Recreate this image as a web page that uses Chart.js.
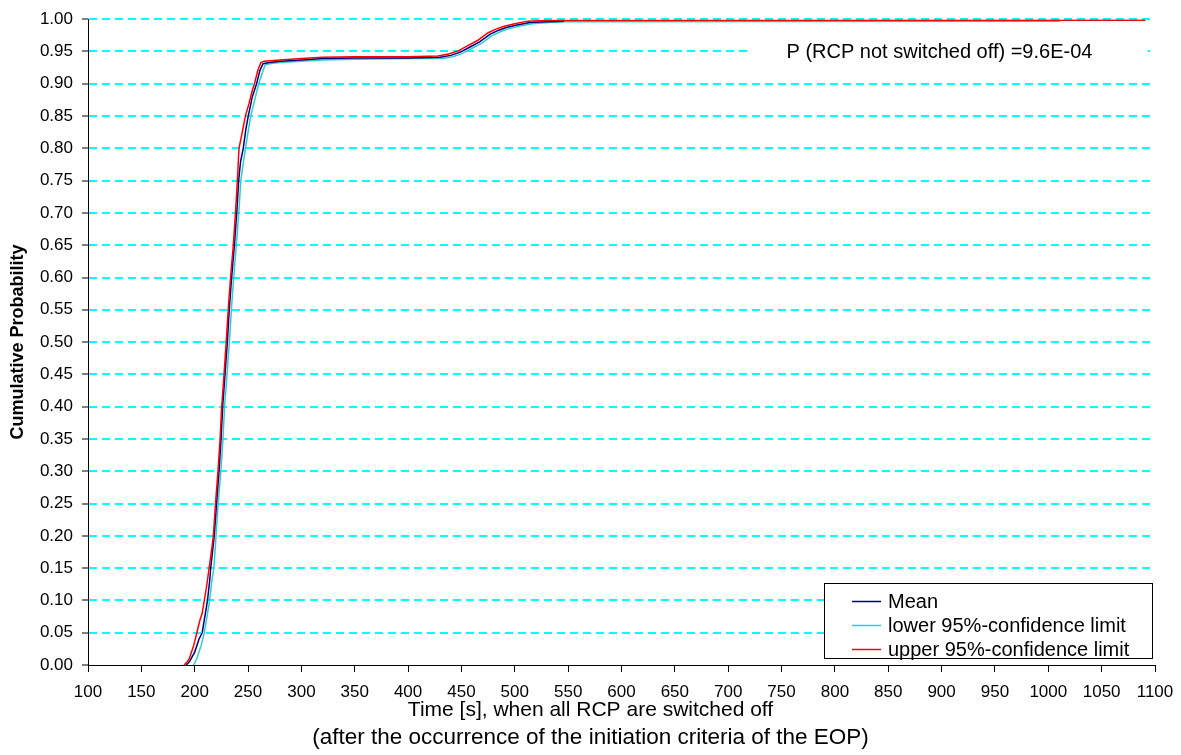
<!DOCTYPE html>
<html>
<head>
<meta charset="utf-8">
<script src="https://cdn.jsdelivr.net/npm/chart.js@4/dist/chart.umd.min.js"></script>
<style>
  html, body { margin: 0; padding: 0; background: #fff; }
  canvas { display: block; }
</style>
</head>
<body>
<canvas id="cdf" width="1181" height="755"></canvas>
<script>
// Cumulative probability of the time when all RCP are switched off

// axis ranges
const timeMin = 100, timeMax = 1100, timeStep = 50;
const probMin = 0, probMax = 1, probStep = 0.05;

// Mean
const meanTime = [192, 195, 200, 204, 207, 210, 212, 214, 215, 217, 218.3, 220.5, 222.8, 224.7, 226.2,
  228.4, 230.6, 232.4, 234.6, 237.2, 239.4, 241.2, 243, 245.5, 248, 250.2, 254, 258, 261, 264,
  270, 280, 300, 320, 350, 400, 430, 440, 449, 458, 467, 477, 485, 492, 502, 514, 530, 546];
const meanProb = [0, 0.005, 0.02, 0.04, 0.05, 0.08, 0.10, 0.13, 0.15, 0.18, 0.20, 0.25, 0.30, 0.35, 0.40,
  0.45, 0.50, 0.55, 0.60, 0.65, 0.70, 0.75, 0.78, 0.80, 0.83, 0.85, 0.88, 0.90, 0.92, 0.931,
  0.933, 0.935, 0.937, 0.939, 0.940, 0.940, 0.941, 0.944, 0.949, 0.957, 0.965, 0.977, 0.983, 0.987, 0.991, 0.995, 0.996, 0.997];

// lower 95%-confidence limit
const lowerTime = [199, 202, 206, 209, 212, 214, 216, 218, 220, 222, 224.5, 226.5, 228, 230.3, 232.5,
  234.4, 236.5, 239, 241.3, 243.2, 247.5, 252.5, 260, 263, 266, 270, 280, 300, 320, 350,
  400, 432, 442, 451, 460, 469, 479, 487, 494, 504, 516, 532, 548, 1011];
const lowerProb = [0, 0.01, 0.03, 0.05, 0.08, 0.10, 0.13, 0.15, 0.20, 0.25, 0.30, 0.35, 0.40, 0.45, 0.50,
  0.55, 0.60, 0.65, 0.70, 0.75, 0.80, 0.85, 0.90, 0.915, 0.929, 0.931, 0.933, 0.935, 0.937, 0.938,
  0.939, 0.939, 0.942, 0.947, 0.955, 0.963, 0.975, 0.981, 0.985, 0.989, 0.993, 0.995, 0.996, 0.997];

// upper 95%-confidence limit
const upperTime = [190, 193, 195, 197, 199, 202, 205, 207, 209, 211, 213.5, 216, 217.5, 219.5, 221.8,
  223.8, 225.3, 227.5, 229.5, 231.4, 233.6, 236.2, 238.2, 240, 241.5, 244, 247.5, 251, 254, 256,
  259, 262, 265, 280, 300, 320, 350, 400, 428, 438, 447, 456, 465, 475, 483, 490, 500, 512, 528, 545, 1091];
const upperProb = [0, 0.005, 0.01, 0.02, 0.03, 0.05, 0.07, 0.08, 0.10, 0.12, 0.15, 0.18, 0.20, 0.25, 0.30,
  0.35, 0.40, 0.45, 0.50, 0.55, 0.60, 0.65, 0.70, 0.75, 0.80, 0.82, 0.85, 0.87, 0.89, 0.90,
  0.92, 0.933, 0.935, 0.937, 0.939, 0.941, 0.942, 0.942, 0.943, 0.946, 0.951, 0.959, 0.967, 0.979, 0.985, 0.989, 0.993, 0.997, 0.998, 0.998, 0.9985];

const seriesLabels = ["Mean", "lower 95%-confidence limit", "upper 95%-confidence limit"];
const seriesColors = ["#000080", "#33CCCC", "#FF0000"];
const noteText = "P (RCP not switched off) =9.6E-04";
const xTitle = ["Time [s], when all RCP are switched off", "(after the occurrence of the initiation criteria of the EOP)"];
const yTitle = "Cumulative Probability";

const FONT = "'Liberation Sans', Arial, sans-serif";

function toPoints(xs, ys) {
  return xs.map((x, i) => ({ x: x, y: ys[i] }));
}

// white box with the probability note, masks the gridline behind it
const notePlugin = {
  id: "note",
  afterDraw(chart) {
    const ctx = chart.ctx;
    const xs = chart.scales.x, ys = chart.scales.y;
    const left = xs.getPixelForValue(720), right = xs.getPixelForValue(1093);
    const yc = ys.getPixelForValue(0.95);
    ctx.save();
    ctx.fillStyle = "#fff";
    ctx.fillRect(left, yc - 13, right - left, 26);
    ctx.fillStyle = "#000";
    ctx.font = "20px " + FONT;
    ctx.textAlign = "center";
    ctx.textBaseline = "middle";
    ctx.fillText(noteText, xs.getPixelForValue(898), yc + 1);
    ctx.restore();
  }
};

// framed legend in the lower right corner of the plot
const legendPlugin = {
  id: "boxLegend",
  afterDraw(chart) {
    const ctx = chart.ctx;
    const area = chart.chartArea;
    const w = 328, h = 75;
    const right = area.right - 3, bottom = area.bottom - 7;
    const left = right - w, top = bottom - h;
    ctx.save();
    ctx.fillStyle = "#fff";
    ctx.fillRect(left, top, w, h);
    ctx.strokeStyle = "#000";
    ctx.lineWidth = 1;
    ctx.strokeRect(Math.round(left) + 0.5, Math.round(top) + 0.5, w, h);
    ctx.font = "20px " + FONT;
    ctx.textBaseline = "middle";
    seriesLabels.forEach((lab, i) => {
      const y = Math.round(top + 18 + i * 24) + 0.5;
      ctx.strokeStyle = seriesColors[i];
      ctx.lineWidth = 1.5;
      ctx.beginPath();
      ctx.moveTo(left + 28, y);
      ctx.lineTo(left + 57, y);
      ctx.stroke();
      ctx.fillStyle = "#000";
      ctx.fillText(lab, left + 64, y + 1);
    });
    ctx.restore();
  }
};

// two-line x axis title, centred on the page like the original
const xTitlePlugin = {
  id: "xTitle",
  afterDraw(chart) {
    const ctx = chart.ctx;
    ctx.save();
    ctx.fillStyle = "#000";
    ctx.textAlign = "center";
    ctx.textBaseline = "middle";
    ctx.font = "21px " + FONT;
    ctx.fillText(xTitle[0], chart.width / 2, 710);
    ctx.font = "22.5px " + FONT;
    ctx.fillText(xTitle[1], chart.width / 2, 738);
    ctx.restore();
  }
};

const ctx = document.getElementById("cdf").getContext("2d");
new Chart(ctx, {
  type: "line",
  data: {
    datasets: [
      { label: seriesLabels[0], data: toPoints(meanTime, meanProb), borderColor: seriesColors[0], order: 1 },
      { label: seriesLabels[1], data: toPoints(lowerTime, lowerProb), borderColor: seriesColors[1], order: 2 },
      { label: seriesLabels[2], data: toPoints(upperTime, upperProb), borderColor: seriesColors[2], order: 0 },
    ],
  },
  options: {
    responsive: false,
    animation: false,
    devicePixelRatio: 1,
    layout: { padding: { top: 18, right: 26, left: 0, bottom: 0 } },
    elements: {
      point: { radius: 0 },
      line: { borderWidth: 1.5, tension: 0, fill: false },
    },
    plugins: {
      legend: { display: false },
      tooltip: { enabled: false },
    },
    scales: {
      x: {
        type: "linear",
        min: timeMin,
        max: timeMax,
        afterFit: (s) => { s.height = 90; s.paddingRight = 0; },
        ticks: {
          stepSize: timeStep,
          autoSkip: false,
          maxRotation: 0,
          color: "#000",
          padding: 10,
          font: { family: FONT, size: 17 },
          callback: (v) => String(v),
        },
        grid: { drawOnChartArea: false, drawTicks: true, tickLength: 7, color: "#000", tickColor: "#000" },
        border: { color: "#000", width: 1 },
      },
      y: {
        min: probMin,
        max: probMax,
        afterFit: (s) => { s.width = 88; },
        ticks: {
          stepSize: probStep,
          color: "#000",
          padding: 9,
          font: { family: FONT, size: 17 },
          callback: (v) => v.toFixed(2),
        },
        grid: {
          color: (c) => (c.tick && c.tick.value === 0 ? "rgba(0,0,0,0)" : "#00FFFF"),
          lineWidth: 2,
          tickLength: 6,
          tickColor: "#000",
          tickWidth: 1,
        },
        border: { color: "#000", width: 1, dash: [8, 5] },
        title: {
          display: true,
          text: yTitle,
          color: "#000",
          font: { family: FONT, size: 18, weight: "bold" },
          padding: { top: 7, bottom: 0 },
        },
      },
    },
  },
  plugins: [notePlugin, legendPlugin, xTitlePlugin],
});
</script>
</body>
</html>
